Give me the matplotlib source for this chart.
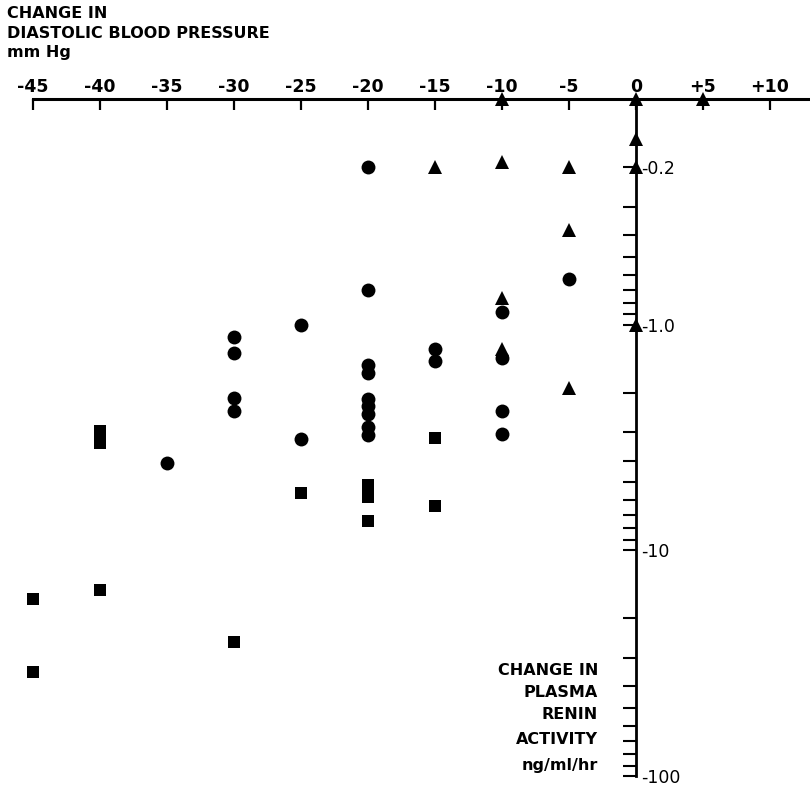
import matplotlib
matplotlib.use("Agg")
import matplotlib.pyplot as plt
from matplotlib.ticker import FixedLocator, FixedFormatter, NullFormatter
import numpy as np

# ---- data: change in diastolic BP (mm Hg) vs change in plasma renin activity (ng/ml/hr)
circle_bp = [-20, -5, -20, -10, -25, -30, -15, -30, -10, -15, -20, -20,
             -30, -20, -20, -30, -10, -20, -20, -10, -20, -25, -35]
circle_renin = [-0.20, -0.63, -0.70, -0.88, -1.00, -1.13, -1.28, -1.34, -1.40, -1.45, -1.51, -1.64,
                -2.11, -2.13, -2.30, -2.41, -2.41, -2.49, -2.84, -3.05, -3.08, -3.21, -4.10]

triangle_bp = [-15, -10, -5, 0, 0, -5, -10, -10, -5, 0]
triangle_renin = [-0.20, -0.19, -0.20, -0.20, -0.15, -0.38, -0.76, -1.28, -1.91, -1.00]

# triangles with no fall in renin, drawn on the blood-pressure axis
triangle_axis_bp = [-10, 0, 5]

square_bp = [-40, -40, -15, -20, -25, -20, -15, -20, -40, -45, -30, -45]
square_renin = [-2.96, -3.34, -3.18, -5.13, -5.57, -5.80, -6.36, -7.45, -15.0, -16.4, -25.5, -34.6]

x_ticks = [-45, -40, -35, -30, -25, -20, -15, -10, -5, 0, 5, 10]
x_tick_labels = ["-45", "-40", "-35", "-30", "-25", "-20", "-15", "-10", "-5", "0", "+5", "+10"]
y_major = [-0.2, -1.0, -10, -100]
y_major_labels = ["-0.2", "-1.0", "-10", "-100"]
y_minor = [-0.3, -0.4, -0.5, -0.6, -0.7, -0.8, -0.9,
           -2, -3, -4, -5, -6, -7, -8, -9,
           -20, -30, -40, -50, -60, -70, -80, -90]

W, H = 810, 788
fig = plt.figure(figsize=(W / 100, H / 100), dpi=100)
ax = fig.add_axes([33 / W, 1 - 776 / H, 777 / W, 677 / H])

ax.set_yscale("log")
ax.set_xlim(-45, 13)
ax.set_ylim(100, 0.1)

mag = lambda v: np.abs(np.asarray(v, dtype=float))

ax.plot(circle_bp, mag(circle_renin), "o", color="black", ms=10, mew=0, zorder=4, clip_on=False)
ax.plot(triangle_bp, mag(triangle_renin), "^", color="black", ms=9.5, mew=0, zorder=4, clip_on=False)
ax.plot(square_bp, mag(square_renin), "s", color="black", ms=8.6, mew=0, zorder=4, clip_on=False)
ax.plot(triangle_axis_bp, [1.0] * len(triangle_axis_bp), "^", color="black", ms=9.5, mew=0,
        zorder=4, clip_on=False, transform=ax.get_xaxis_transform())

# spines: x axis at top, y axis crossing at x = 0
for s in ["left", "bottom"]:
    ax.spines[s].set_visible(False)
ax.spines["top"].set_linewidth(2.2)
ax.spines["right"].set_linewidth(2.0)
ax.spines["right"].set_position(("data", 0))

ax.xaxis.set_ticks_position("top")
ax.xaxis.set_label_position("top")
ax.set_xticks(x_ticks)
ax.set_xticklabels(x_tick_labels, fontsize=12.5, fontweight="bold")
ax.tick_params(axis="x", direction="in", length=8, width=1.6, pad=2)

ax.yaxis.set_ticks_position("right")
ax.yaxis.set_major_locator(FixedLocator(mag(y_major)))
ax.yaxis.set_major_formatter(FixedFormatter(y_major_labels))
ax.yaxis.set_minor_locator(FixedLocator(mag(y_minor)))
ax.yaxis.set_minor_formatter(NullFormatter())
ax.tick_params(axis="y", which="both", direction="in", length=9.5, width=1.5, pad=4)
ax.tick_params(axis="y", which="major", labelsize=12.5)

# axis titles
def ftext(x, y, s, **kw):
    fig.text(x / W, 1 - y / H, s, **kw)

ftext(7, 18, "CHANGE IN", fontsize=11.5, fontweight="bold", va="baseline")
ftext(7, 38, "DIASTOLIC BLOOD PRESSURE", fontsize=11.5, fontweight="bold", va="baseline")
ftext(7, 57, "mm Hg", fontsize=11.5, fontweight="bold", va="baseline")

for yb, s in zip([675, 697, 719, 744, 770],
                 ["CHANGE IN", "PLASMA", "RENIN", "ACTIVITY", "ng/ml/hr"]):
    ftext(598, yb, s, fontsize=11.5, fontweight="bold", ha="right", va="baseline")

fig.savefig("out.png", dpi=100)
